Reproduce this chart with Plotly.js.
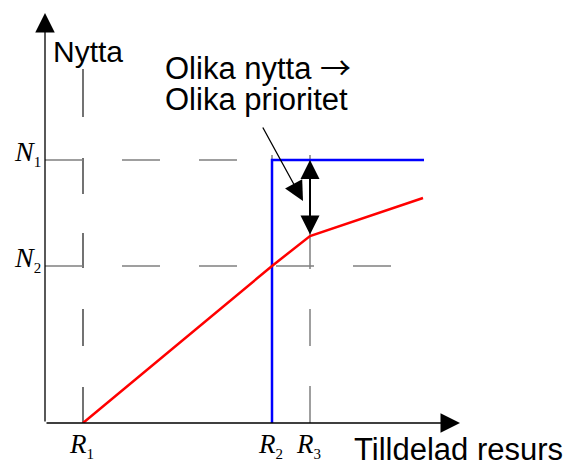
<!DOCTYPE html>
<html>
<head>
<meta charset="utf-8">
<script src="https://cdn.plot.ly/plotly-3.0.1.min.js"></script>
<style>html,body{margin:0;padding:0;background:#fff;}#chart{width:570px;height:466px;}</style>
</head>
<body>
<div id="chart"></div>
<script>
// ---- data (schematic units) ----
const xAxisMax = 415;
const yAxisMax = 410;
const resourceNames = ['R1', 'R2', 'R3'];
const resourceValues = [38, 227, 265];
const utilityNames = ['N1', 'N2'];
const utilityValues = [263, 157];
// red curve (gradual utility)
const redX = [38, 227, 265, 378];
const redY = [0, 157, 187, 225];
// blue curve (step utility)
const blueX = [227, 227, 379];
const blueY = [0, 263, 263];
// dashed guide lines
const vGuideTop = [354, 268, 268];
const hGuideEnd = [227, 346];
const xLabelSubs = ['1', '2', '3'];
const yLabelSubs = ['1', '2'];

const serif = 'Liberation Serif, Times New Roman, serif';
const sans = 'Liberation Sans, Arial, sans-serif';

const traces = [];
// vertical guides
const vDash = ['36px,41px,37px,41px,35px,39px,36px,41px,48px', '37px,40px', '37px,40px'];
const vColor = ['#000000', '#808080', '#808080'];
const vWidth = [1.1, 1.5, 1.5];
for (let i = 0; i < resourceValues.length; i++) {
  traces.push({x: [resourceValues[i], resourceValues[i]], y: [0, vGuideTop[i]], mode: 'lines',
    line: {color: vColor[i], width: vWidth[i], dash: vDash[i]}, hoverinfo: 'skip'});
}
// horizontal guides
for (let i = 0; i < utilityValues.length; i++) {
  traces.push({x: [0, hGuideEnd[i]], y: [utilityValues[i], utilityValues[i]], mode: 'lines',
    line: {color: '#808080', width: 1.5, dash: '38px,39px'}, hoverinfo: 'skip'});
}
traces.push({x: blueX, y: blueY, mode: 'lines', line: {color: '#0000ff', width: 2.5}, hoverinfo: 'skip'});
traces.push({x: redX, y: redY, mode: 'lines', line: {color: '#ff0000', width: 2.5}, hoverinfo: 'skip'});

const annotations = [];
// axes with arrowheads
annotations.push({x: 0, y: yAxisMax, ax: 0, ay: 0, axref: 'x', ayref: 'y', xref: 'x', yref: 'y',
  showarrow: true, text: '', arrowhead: 2, arrowsize: 3, arrowwidth: 1.3, arrowcolor: '#000'});
annotations.push({x: xAxisMax, y: 0, ax: 0, ay: 0, axref: 'x', ayref: 'y', xref: 'x', yref: 'y',
  showarrow: true, text: '', arrowhead: 2, arrowsize: 3, arrowwidth: 1.3, arrowcolor: '#000'});
// double arrow between N1 and red knee at R3
annotations.push({x: resourceValues[2], y: utilityValues[0], ax: resourceValues[2], ay: redY[2],
  axref: 'x', ayref: 'y', xref: 'x', yref: 'y', showarrow: true, text: '', arrowhead: 2, startarrowhead: 2,
  arrowside: 'end+start', arrowsize: 1.9, startarrowsize: 1.9, arrowwidth: 2, arrowcolor: '#000'});
// pointer arrow from text
annotations.push({x: 258, y: 222, ax: 217, ay: 297, axref: 'x', ayref: 'y', xref: 'x', yref: 'y',
  showarrow: true, text: '', arrowhead: 2, arrowsize: 3, arrowwidth: 1.3, arrowcolor: '#000'});

// helpers for pixel-based text placement (paper coordinates of the plot area)
const X0 = 45, Y0 = 423;
function tx(px) { return (px - X0) / xAxisMax; }
function ty(py) { return (Y0 - py) / yAxisMax; }

function textAnn(text, px, py, size, family, xanchor) {
  return {x: tx(px), y: ty(py), xref: 'paper', yref: 'paper', text: text, showarrow: false, borderpad: 0,
    xanchor: xanchor || 'left', yanchor: 'middle', font: {family: family, size: size, color: '#000'}};
}
annotations.push(textAnn('Nytta', 52, 52, 30, sans));
annotations.push(textAnn('Olika nytta <span style="font-family:Noto Sans CJK SC">\u2192</span>', 164, 65, 31, sans));
annotations.push(textAnn('Olika prioritet', 164, 100, 31, sans));
annotations.push(textAnn('Tilldelad resurs', 353, 449, 31, sans));

// axis labels
for (let i = 0; i < utilityValues.length; i++) {
  annotations.push({x: 0, y: utilityValues[i], xref: 'x', yref: 'y', xshift: -2, yshift: 7,
    text: '<i>N</i><sub><span style="font-size:15px">' + yLabelSubs[i] + '</span></sub>',
    showarrow: false, xanchor: 'right', yanchor: 'middle', font: {family: serif, size: 28, color: '#000'}});
}
for (let i = 0; i < resourceValues.length; i++) {
  annotations.push({x: resourceValues[i], y: 0, xref: 'x', yref: 'y', xshift: -2, yshift: -22,
    text: '<i>R</i><sub><span style="font-size:15px">' + xLabelSubs[i] + '</span></sub>',
    showarrow: false, xanchor: 'center', yanchor: 'middle', font: {family: serif, size: 27, color: '#000'}});
}

const layout = {
  width: 570, height: 466,
  margin: {l: 45, r: 110, t: 13, b: 43, pad: 0},
  paper_bgcolor: '#fff', plot_bgcolor: '#fff',
  showlegend: false,
  xaxis: {range: [0, xAxisMax], visible: false, fixedrange: true},
  yaxis: {range: [0, yAxisMax], visible: false, fixedrange: true},
  annotations: annotations
};
Plotly.newPlot('chart', traces, layout, {staticPlot: true, displayModeBar: false});
</script>
</body>
</html>
